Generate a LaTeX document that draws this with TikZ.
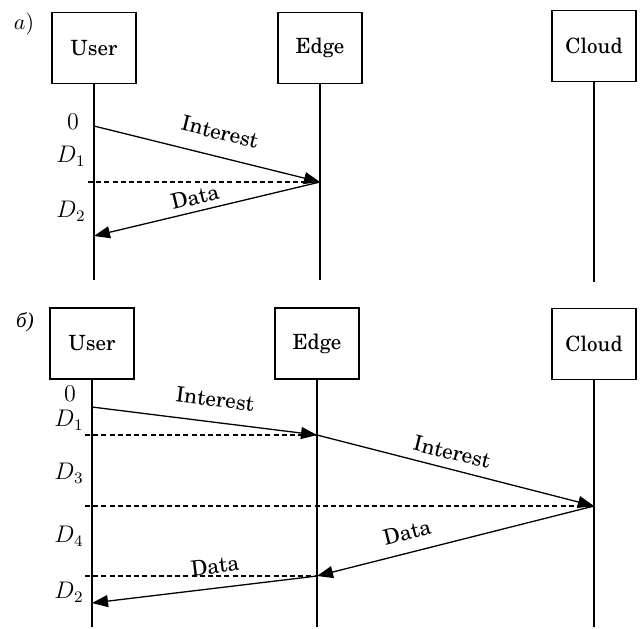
\documentclass[tikz,border=0pt]{standalone}
\usepackage{fontspec}
\setmainfont{TeX Gyre Schola}
\newfontfamily\cyrfont{Liberation Serif}
\usetikzlibrary{arrows.meta}
\begin{document}
\begin{tikzpicture}[x=0.5pt,y=-0.5pt,
  actor/.style={draw, line width=0.6pt, minimum width=42pt, minimum height=35.5pt,
    inner sep=0pt, font=\fontsize{10.5}{12}\selectfont},
  life/.style={line width=0.6pt},
  msg/.style={line width=0.65pt, -{Triangle[length=8pt,width=6pt]}},
  guide/.style={line width=0.6pt, dash pattern=on 2.5pt off 1.6pt},
  msglbl/.style={inner sep=0pt, font=\fontsize{10.6}{12}\selectfont},
  timelbl/.style={inner sep=0pt, font=\fontsize{11.5}{13}\selectfont},
  panel/.style={inner sep=0pt, font=\fontsize{10.5}{12}\selectfont}]
\useasboundingbox (0,0) rectangle (641,628);

% ---------- panel a ----------
\node[panel] (pa) at (24,24) {$a)$};
\node[actor] (uA) at (94,48)  {User};
\node[actor] (eA) at (320,48) {Edge};
\node[actor] (cA) at (594,46) {Cloud};
\coordinate (uAend) at (uA.south |- 0,280);
\coordinate (eAend) at (eA.south |- 0,280);
\coordinate (cAend) at (cA.south |- 0,282);
\draw[life] (uA.south) -- (uAend);
\draw[life] (eA.south) -- (eAend);
\draw[life] (cA.south) -- (cAend);

\coordinate (a0) at (uA.south |- 0,126);
\coordinate (a1) at (eA.south |- 0,182);
\coordinate (a2) at (uA.south |- 0,236);
\coordinate (a1l) at (88,182);
\draw[guide] (a1l) -- (a1);
\draw[msg] (a0) -- (a1);
\draw[msg] (a1) -- (a2);
\node[msglbl, rotate=-14] (ia) at (220,132) {Interest};
\node[msglbl, rotate=13.5] (da) at (195,197) {Data};
\node[timelbl] (ta0) at (73,122) {$0$};
\node[timelbl] (ta1) at (71,156) {$D_1$};
\node[timelbl] (ta2) at (71,211) {$D_2$};

% ---------- panel b ----------
\node[panel] (pb) at (25,322) {\cyrfont\itshape б)};
\node[actor] (uB) at (92,343.5)  {User};
\node[actor] (eB) at (317,343.5) {Edge};
\node[actor] (cB) at (594,344)   {Cloud};
\coordinate (uBend) at (uB.south |- 0,627);
\coordinate (eBend) at (eB.south |- 0,627);
\coordinate (cBend) at (cB.south |- 0,627);
\draw[life] (uB.south) -- (uBend);
\draw[life] (eB.south) -- (eBend);
\draw[life] (cB.south) -- (cBend);

\coordinate (b0) at (uB.south |- 0,407);
\coordinate (b1) at (eB.south |- 0,435);
\coordinate (b3) at (cB.south |- 0,506);
\coordinate (b4) at (eB.south |- 0,576);
\coordinate (b2) at (uB.south |- 0,603);
\coordinate (b1l) at (85,435);
\coordinate (b3l) at (85,506);
\coordinate (b4l) at (85,576);
\draw[guide] (b1l) -- (b1);
\draw[guide] (b3l) -- (b3);
\draw[guide] (b4l) -- (b4);
\draw[msg] (b0) -- (b1);
\draw[msg] (b1) -- (b3);
\draw[msg] (b3) -- (b4);
\draw[msg] (b4) -- (b2);
\node[msglbl, rotate=-7.1]  (ib1) at (215,399) {Interest};
\node[msglbl, rotate=-13.8] (ib2) at (452,452) {Interest};
\node[msglbl, rotate=14]    (db1) at (407,532) {Data};
\node[msglbl, rotate=6.8]   (db2) at (215,566) {Data};
\node[timelbl] (tb0) at (70,394) {$0$};
\node[timelbl] (tb1) at (69,420) {$D_1$};
\node[timelbl] (tb3) at (69,473) {$D_3$};
\node[timelbl] (tb4) at (69,536) {$D_4$};
\node[timelbl] (tb2) at (69,592) {$D_2$};
\end{tikzpicture}
\end{document}
